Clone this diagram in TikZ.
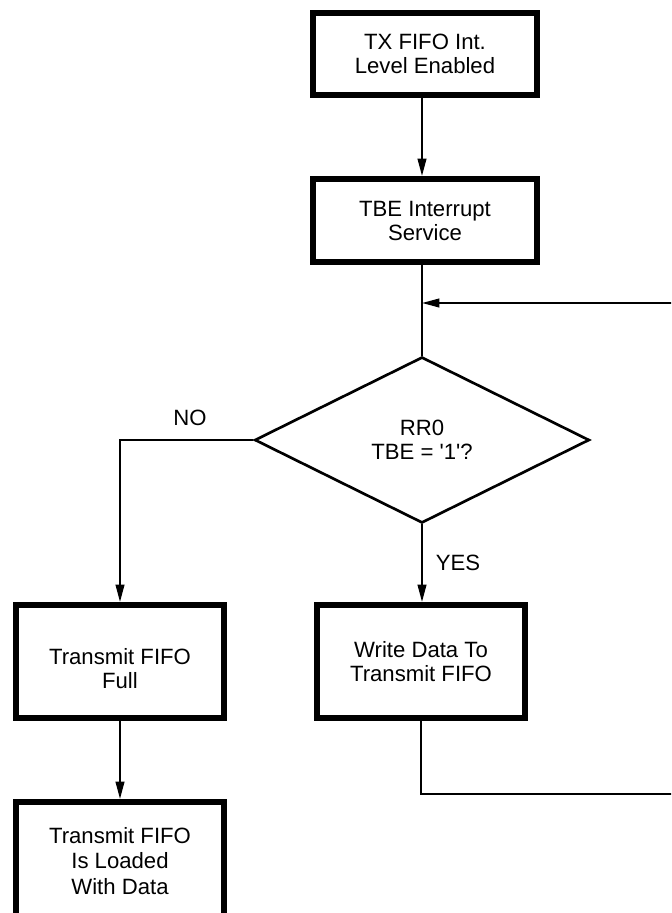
\documentclass[tikz,border=0pt]{standalone}
\usepackage{fontspec}
\setmainfont{Liberation Sans}
\usetikzlibrary{shapes.geometric,arrows.meta}
\begin{document}
\begin{tikzpicture}[x=0.75pt,y=-0.75pt,
  every node/.style={font=\fontsize{16.6}{18}\selectfont, align=center, text=black},
  procbox/.style={draw, line width=4.5pt, outer sep=2.25pt, inner sep=0pt},
  widebox/.style={procbox, minimum width=168pt},
  flowbox/.style={procbox, minimum width=156pt},
  decision/.style={diamond, draw, line width=2pt, inner sep=0pt,
    minimum width=251pt, minimum height=124.5pt, outer sep=1pt},
  flow/.style={line width=1.4pt},
  arrowflow/.style={flow, -{Triangle[length=13pt,width=6.5pt]}},
  plain/.style={inner sep=0pt}
]
\useasboundingbox (0,0) rectangle (671,913);
\clip (0,0) rectangle (671,913);

% process boxes and decision
\node[widebox, minimum height=61.5pt] (b1) at (425,54) {TX FIFO Int.\\Level Enabled};
\node[widebox, minimum height=62.25pt] (b2) at (425,220.5) {TBE Interrupt\\Service};
\node[decision] (d) at (422,440) {RR0\\TBE = \textquotesingle 1\textquotesingle ?};
\node[flowbox, minimum height=84.75pt] (b3) at (120,661.5) {};
\node[plain] (b3t) at (120,669) {Transmit FIFO\\Full};
\node[flowbox, minimum height=84.75pt] (b4) at (421,661.5) {Write Data To\\Transmit FIFO};
\node[flowbox, minimum height=93pt] (b5) at (120,864) {};
\node[plain, font=\fontsize{16.6}{19}\selectfont] (b5t) at (120,861) {Transmit FIFO\\Is Loaded\\With Data};

% branch labels
\node[plain] (no) at (190,418) {NO};
\node[plain] (yes) at (458,563) {YES};

% loop-back ends
\coordinate (jy) at (690,303);
\coordinate (j) at (d.north |- jy);
\coordinate (ry) at (690,794);

% connectors
\draw[arrowflow] (b1.south -| d.north) -- (b2.north -| d.north);
\draw[flow] (b2.south -| d.north) -- (d.north);
\draw[arrowflow] (jy) -- (j);
\draw[arrowflow] (d.west) -| (b3.north);
\draw[arrowflow] (d.south) -- (d.south |- b4.north);
\draw[flow] (b4.south) |- (ry);
\draw[arrowflow] (b3.south) -- (b5.north);
\end{tikzpicture}
\end{document}
